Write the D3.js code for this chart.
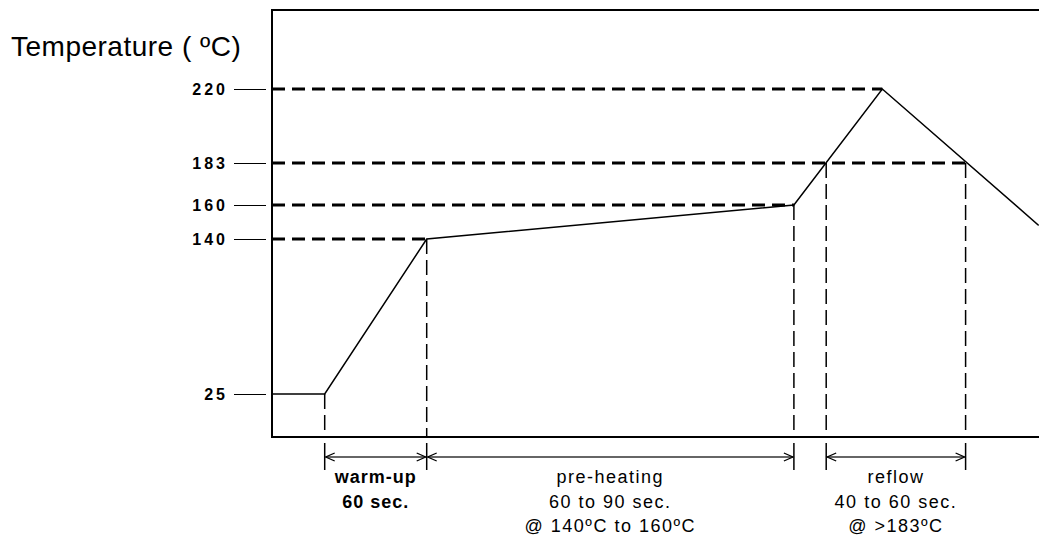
<!DOCTYPE html>
<html>
<head>
<meta charset="utf-8">
<script src="https://cdn.jsdelivr.net/npm/d3@7"></script>
<style>
    body { margin: 0; background: #fff; }
    svg { display: block; }
</style>
</head>
<body>
<div class="profile"></div>
<script>
// reflow profile, times in seconds (schematic), temperatures in ºC
const profileTimes = [0, 31, 91, 307, 359, 451];
const profileTemps = [25, 25, 140, 160, 220, 148];

const tempTicks = [25, 140, 160, 183, 220];
// where each dashed temperature guide ends (time)
const guideEnds = [null, 91, 307, 408, 359];

// dashed drop lines: time, temperature they start at
const dropTimes = [31, 91, 307, 326, 408];
const dropTemps = [25, 140, 160, 183, 183];

const phaseStart = [31, 91, 326];
const phaseEnd = [91, 307, 408];
const phaseLines = [
    ["warm-up", "60 sec."],
    ["pre-heating", "60 to 90 sec.", "@ 140ºC to 160ºC"],
    ["reflow", "40 to 60 sec.", "@ >183ºC"]
];
const phaseBold = [true, false, false];

let svgW = 1039,
    svgH = 538,
    plotLeft = 272,
    plotTop = 10,
    plotBottom = 437,
    arrowY = 457;

const svg = d3.select(".profile")
    .append("svg")
    .attr("width", svgW)
    .attr("height", svgH)
    .attr("font-family", "'Liberation Sans', Arial, sans-serif");

const x = d3.scaleLinear()
    .domain([0, 451])
    .range([plotLeft, 1038.7]);

// the drawing is not to scale, so the temperature axis is piecewise
const y = d3.scaleLinear()
    .domain([25, 140, 160, 183, 220])
    .range([394, 239, 205, 163, 89]);

// frame
svg.append("line")
    .attr("x1", plotLeft).attr("x2", svgW)
    .attr("y1", plotTop).attr("y2", plotTop)
    .attr("stroke", "#000").attr("stroke-width", 2);
svg.append("line")
    .attr("x1", plotLeft).attr("x2", svgW)
    .attr("y1", plotBottom).attr("y2", plotBottom)
    .attr("stroke", "#000").attr("stroke-width", 2);
svg.append("line")
    .attr("x1", plotLeft).attr("x2", plotLeft)
    .attr("y1", plotTop - 1).attr("y2", plotBottom + 1)
    .attr("stroke", "#000").attr("stroke-width", 2);

// y axis ticks, detached from the frame
const yAxis = svg.append("g")
    .attr("transform", `translate(${plotLeft - 6},0)`)
    .call(d3.axisLeft(y).tickValues(tempTicks).tickSize(32).tickPadding(6));
yAxis.select(".domain").remove();
yAxis.selectAll(".tick line").attr("stroke", "#000").attr("stroke-width", 1);
yAxis.selectAll(".tick text")
    .attr("fill", "#000")
    .attr("font-size", 16)
    .attr("font-weight", "bold")
    .attr("font-family", "'Liberation Sans', Arial, sans-serif")
    .style("letter-spacing", "3px")
    .attr("dy", "0.36em");

// horizontal dashed guides
svg.selectAll("line.guide")
    .data(tempTicks.filter((d, i) => guideEnds[i] !== null))
    .enter()
    .append("line")
    .attr("class", "guide")
    .attr("x1", plotLeft)
    .attr("x2", d => x(guideEnds[tempTicks.indexOf(d)]))
    .attr("y1", d => y(d))
    .attr("y2", d => y(d))
    .attr("stroke", "#000")
    .attr("stroke-width", 3)
    .attr("stroke-dasharray", "13,7");

// vertical dashed drop lines
svg.selectAll("line.drop")
    .data(dropTimes)
    .enter()
    .append("line")
    .attr("class", "drop")
    .attr("x1", d => x(d))
    .attr("x2", d => x(d))
    .attr("y1", (d, i) => y(dropTemps[i]))
    .attr("y2", plotBottom)
    .attr("stroke", "#000")
    .attr("stroke-width", 1.5)
    .attr("stroke-dasharray", "15,6");

// extension lines below the axis
svg.selectAll("line.ext")
    .data(dropTimes)
    .enter()
    .append("line")
    .attr("class", "ext")
    .attr("x1", d => x(d))
    .attr("x2", d => x(d))
    .attr("y1", plotBottom + 6)
    .attr("y2", plotBottom + 33)
    .attr("stroke", "#000")
    .attr("stroke-width", 1.5);

// the profile itself
const line = d3.line()
    .x((d, i) => x(profileTimes[i]))
    .y(d => y(d));
svg.append("path")
    .datum(profileTemps)
    .attr("d", line)
    .attr("fill", "none")
    .attr("stroke", "#000")
    .attr("stroke-width", 1.5)
    .attr("stroke-linejoin", "miter");

// dimension arrows
const phases = svg.selectAll("g.phase")
    .data(phaseLines)
    .enter()
    .append("g")
    .attr("class", "phase");

phases.append("line")
    .attr("x1", (d, i) => x(phaseStart[i]) + 1)
    .attr("x2", (d, i) => x(phaseEnd[i]) - 1)
    .attr("y1", arrowY)
    .attr("y2", arrowY)
    .attr("stroke", "#333")
    .attr("stroke-width", 1.5);

phases.append("path")
    .attr("d", (d, i) => {
        let a = x(phaseStart[i]) + 1, b = x(phaseEnd[i]) - 1;
        return `M${a + 9},${arrowY - 4}L${a},${arrowY}L${a + 9},${arrowY + 4}` +
            `M${b - 9},${arrowY - 4}L${b},${arrowY}L${b - 9},${arrowY + 4}`;
    })
    .attr("fill", "none")
    .attr("stroke", "#000")
    .attr("stroke-width", 1.3);

phases.each(function (lines, i) {
    let cx = (x(phaseStart[i]) + x(phaseEnd[i])) / 2;
    d3.select(this).selectAll("text")
        .data(lines)
        .enter()
        .append("text")
        .attr("x", cx)
        .attr("y", (d, j) => 483 + j * 24.5)
        .attr("text-anchor", "middle")
        .attr("font-size", 18)
        .attr("font-weight", phaseBold[i] ? "bold" : "normal")
        .style("letter-spacing", phaseBold[i] ? "1px" : "1.5px")
        .attr("fill", "#000")
        .text(d => d);
});

// axis title
svg.append("text")
    .attr("x", 11)
    .attr("y", 56)
    .attr("font-size", 28)
    .style("letter-spacing", "0.5px")
    .attr("fill", "#000")
    .text("Temperature ( ºC)");
</script>
</body>
</html>
